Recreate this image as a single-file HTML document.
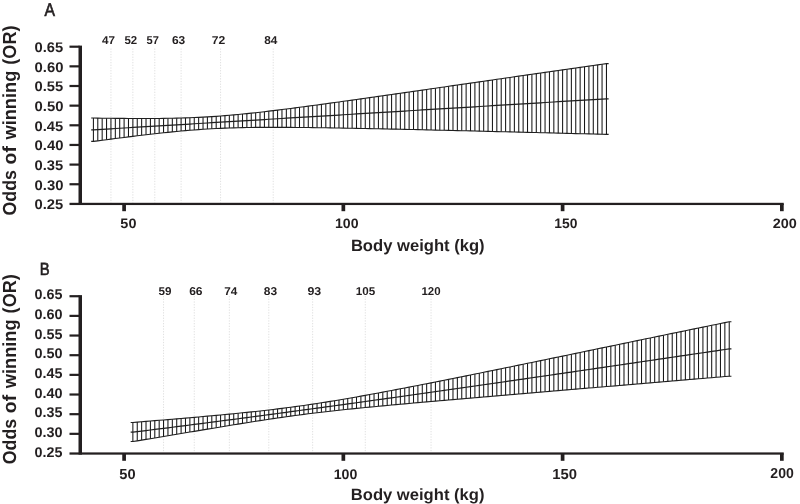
<!DOCTYPE html>
<html><head><meta charset="utf-8"><title>Odds of winning vs body weight</title>
<style>
html,body{margin:0;padding:0;background:#fff;}
svg{display:block;font-family:"Liberation Sans",sans-serif;}
text{fill:#231f20;text-rendering:geometricPrecision;}
</style></head>
<body>
<svg width="800" height="504" viewBox="0 0 800 504">
<rect width="800" height="504" fill="#fff"/>
<g>
<line x1="110.94" y1="48.5" x2="110.94" y2="202.90" stroke="#e0e0e0" stroke-width="1" stroke-dasharray="1.3 1.4"/>
<line x1="132.87" y1="48.5" x2="132.87" y2="202.90" stroke="#e0e0e0" stroke-width="1" stroke-dasharray="1.3 1.4"/>
<line x1="154.79" y1="48.5" x2="154.79" y2="202.90" stroke="#e0e0e0" stroke-width="1" stroke-dasharray="1.3 1.4"/>
<line x1="181.10" y1="48.5" x2="181.10" y2="202.90" stroke="#e0e0e0" stroke-width="1" stroke-dasharray="1.3 1.4"/>
<line x1="220.57" y1="48.5" x2="220.57" y2="202.90" stroke="#e0e0e0" stroke-width="1" stroke-dasharray="1.3 1.4"/>
<line x1="273.19" y1="48.5" x2="273.19" y2="202.90" stroke="#e0e0e0" stroke-width="1" stroke-dasharray="1.3 1.4"/>
<path d="M93.41 118.06V141.42M97.79 118.12V140.84M102.17 118.18V140.27M106.56 118.24V139.70M110.94 118.29V139.13M115.33 118.34V138.56M119.71 118.38V138.00M124.10 118.42V137.45M128.48 118.45V136.90M132.87 118.48V136.36M137.25 118.49V135.82M141.64 118.50V135.29M146.02 118.50V134.77M150.41 118.49V134.26M154.79 118.47V133.76M159.18 118.43V133.28M163.56 118.38V132.80M167.95 118.32V132.34M172.33 118.24V131.89M176.72 118.15V131.46M181.10 118.03V131.05M185.49 117.90V130.66M189.88 117.75V130.29M194.26 117.57V129.94M198.64 117.37V129.61M203.03 117.15V129.31M207.41 116.90V129.03M211.80 116.63V128.77M216.19 116.33V128.54M220.57 116.01V128.33M224.95 115.66V128.15M229.34 115.29V127.99M233.72 114.90V127.85M238.11 114.49V127.73M242.50 114.07V127.62M246.88 113.62V127.54M251.26 113.16V127.47M255.65 112.68V127.42M260.03 112.19V127.38M264.42 111.68V127.35M268.80 111.16V127.34M273.19 110.64V127.33M277.57 110.10V127.34M281.96 109.55V127.35M286.35 109.00V127.37M290.73 108.44V127.40M295.12 107.87V127.43M299.50 107.30V127.47M303.88 106.72V127.52M308.27 106.14V127.57M312.65 105.55V127.62M317.04 104.96V127.68M321.42 104.36V127.75M325.81 103.76V127.81M330.19 103.16V127.88M334.58 102.55V127.95M338.96 101.94V128.03M343.35 101.33V128.11M347.74 100.72V128.18M352.12 100.10V128.27M356.50 99.49V128.35M360.89 98.87V128.44M365.27 98.25V128.52M369.66 97.63V128.61M374.04 97.00V128.70M378.43 96.38V128.79M382.81 95.75V128.89M387.20 95.13V128.98M391.59 94.50V129.08M395.97 93.87V129.17M400.36 93.24V129.27M404.74 92.61V129.37M409.12 91.98V129.47M413.51 91.35V129.57M417.89 90.72V129.67M422.28 90.09V129.77M426.66 89.45V129.87M431.05 88.82V129.97M435.43 88.19V130.08M439.82 87.56V130.18M444.20 86.92V130.29M448.59 86.29V130.39M452.98 85.66V130.50M457.36 85.02V130.60M461.75 84.39V130.71M466.13 83.75V130.82M470.51 83.12V130.92M474.90 82.49V131.03M479.28 81.85V131.14M483.67 81.22V131.25M488.05 80.59V131.36M492.44 79.95V131.47M496.82 79.32V131.58M501.21 78.69V131.69M505.60 78.06V131.80M509.98 77.42V131.91M514.37 76.79V132.02M518.75 76.16V132.13M523.13 75.53V132.24M527.52 74.90V132.35M531.90 74.27V132.46M536.29 73.64V132.57M540.67 73.01V132.68M545.06 72.38V132.80M549.44 71.76V132.91M553.83 71.13V133.02M558.21 70.50V133.13M562.60 69.87V133.25M566.99 69.25V133.36M571.37 68.62V133.47M575.75 68.00V133.58M580.14 67.37V133.70M584.52 66.75V133.81M588.91 66.13V133.92M593.29 65.51V134.04M597.68 64.88V134.15M602.06 64.26V134.26M606.45 63.64V134.38" stroke="#171717" stroke-width="1.05" fill="none"/>
<polyline points="91.20,118.06 93.41,118.06 97.79,118.12 102.17,118.18 106.56,118.24 110.94,118.29 115.33,118.34 119.71,118.38 124.10,118.42 128.48,118.45 132.87,118.48 137.25,118.49 141.64,118.50 146.02,118.50 150.41,118.49 154.79,118.47 159.18,118.43 163.56,118.38 167.95,118.32 172.33,118.24 176.72,118.15 181.10,118.03 185.49,117.90 189.88,117.75 194.26,117.57 198.64,117.37 203.03,117.15 207.41,116.90 211.80,116.63 216.19,116.33 220.57,116.01 224.95,115.66 229.34,115.29 233.72,114.90 238.11,114.49 242.50,114.07 246.88,113.62 251.26,113.16 255.65,112.68 260.03,112.19 264.42,111.68 268.80,111.16 273.19,110.64 277.57,110.10 281.96,109.55 286.35,109.00 290.73,108.44 295.12,107.87 299.50,107.30 303.88,106.72 308.27,106.14 312.65,105.55 317.04,104.96 321.42,104.36 325.81,103.76 330.19,103.16 334.58,102.55 338.96,101.94 343.35,101.33 347.74,100.72 352.12,100.10 356.50,99.49 360.89,98.87 365.27,98.25 369.66,97.63 374.04,97.00 378.43,96.38 382.81,95.75 387.20,95.13 391.59,94.50 395.97,93.87 400.36,93.24 404.74,92.61 409.12,91.98 413.51,91.35 417.89,90.72 422.28,90.09 426.66,89.45 431.05,88.82 435.43,88.19 439.82,87.56 444.20,86.92 448.59,86.29 452.98,85.66 457.36,85.02 461.75,84.39 466.13,83.75 470.51,83.12 474.90,82.49 479.28,81.85 483.67,81.22 488.05,80.59 492.44,79.95 496.82,79.32 501.21,78.69 505.60,78.06 509.98,77.42 514.37,76.79 518.75,76.16 523.13,75.53 527.52,74.90 531.90,74.27 536.29,73.64 540.67,73.01 545.06,72.38 549.44,71.76 553.83,71.13 558.21,70.50 562.60,69.87 566.99,69.25 571.37,68.62 575.75,68.00 580.14,67.37 584.52,66.75 588.91,66.13 593.29,65.51 597.68,64.88 602.06,64.26 606.45,63.64 608.65,63.64" stroke="#1f1f1f" stroke-width="1.1" fill="none"/>
<polyline points="91.20,141.42 93.41,141.42 97.79,140.84 102.17,140.27 106.56,139.70 110.94,139.13 115.33,138.56 119.71,138.00 124.10,137.45 128.48,136.90 132.87,136.36 137.25,135.82 141.64,135.29 146.02,134.77 150.41,134.26 154.79,133.76 159.18,133.28 163.56,132.80 167.95,132.34 172.33,131.89 176.72,131.46 181.10,131.05 185.49,130.66 189.88,130.29 194.26,129.94 198.64,129.61 203.03,129.31 207.41,129.03 211.80,128.77 216.19,128.54 220.57,128.33 224.95,128.15 229.34,127.99 233.72,127.85 238.11,127.73 242.50,127.62 246.88,127.54 251.26,127.47 255.65,127.42 260.03,127.38 264.42,127.35 268.80,127.34 273.19,127.33 277.57,127.34 281.96,127.35 286.35,127.37 290.73,127.40 295.12,127.43 299.50,127.47 303.88,127.52 308.27,127.57 312.65,127.62 317.04,127.68 321.42,127.75 325.81,127.81 330.19,127.88 334.58,127.95 338.96,128.03 343.35,128.11 347.74,128.18 352.12,128.27 356.50,128.35 360.89,128.44 365.27,128.52 369.66,128.61 374.04,128.70 378.43,128.79 382.81,128.89 387.20,128.98 391.59,129.08 395.97,129.17 400.36,129.27 404.74,129.37 409.12,129.47 413.51,129.57 417.89,129.67 422.28,129.77 426.66,129.87 431.05,129.97 435.43,130.08 439.82,130.18 444.20,130.29 448.59,130.39 452.98,130.50 457.36,130.60 461.75,130.71 466.13,130.82 470.51,130.92 474.90,131.03 479.28,131.14 483.67,131.25 488.05,131.36 492.44,131.47 496.82,131.58 501.21,131.69 505.60,131.80 509.98,131.91 514.37,132.02 518.75,132.13 523.13,132.24 527.52,132.35 531.90,132.46 536.29,132.57 540.67,132.68 545.06,132.80 549.44,132.91 553.83,133.02 558.21,133.13 562.60,133.25 566.99,133.36 571.37,133.47 575.75,133.58 580.14,133.70 584.52,133.81 588.91,133.92 593.29,134.04 597.68,134.15 602.06,134.26 606.45,134.38 608.65,134.38" stroke="#1f1f1f" stroke-width="1.1" fill="none"/>
<polyline points="91.20,129.83 93.41,129.83 97.79,129.56 102.17,129.30 106.56,129.04 110.94,128.78 115.33,128.51 119.71,128.25 124.10,127.99 128.48,127.73 132.87,127.46 137.25,127.20 141.64,126.94 146.02,126.67 150.41,126.41 154.79,126.15 159.18,125.88 163.56,125.62 167.95,125.36 172.33,125.09 176.72,124.83 181.10,124.56 185.49,124.30 189.88,124.04 194.26,123.77 198.64,123.51 203.03,123.24 207.41,122.98 211.80,122.72 216.19,122.45 220.57,122.19 224.95,121.92 229.34,121.66 233.72,121.39 238.11,121.13 242.50,120.86 246.88,120.60 251.26,120.33 255.65,120.07 260.03,119.80 264.42,119.54 268.80,119.27 273.19,119.01 277.57,118.74 281.96,118.48 286.35,118.21 290.73,117.95 295.12,117.68 299.50,117.42 303.88,117.15 308.27,116.89 312.65,116.62 317.04,116.36 321.42,116.09 325.81,115.82 330.19,115.56 334.58,115.29 338.96,115.03 343.35,114.76 347.74,114.50 352.12,114.23 356.50,113.96 360.89,113.70 365.27,113.43 369.66,113.17 374.04,112.90 378.43,112.63 382.81,112.37 387.20,112.10 391.59,111.84 395.97,111.57 400.36,111.30 404.74,111.04 409.12,110.77 413.51,110.50 417.89,110.24 422.28,109.97 426.66,109.71 431.05,109.44 435.43,109.17 439.82,108.91 444.20,108.64 448.59,108.37 452.98,108.11 457.36,107.84 461.75,107.58 466.13,107.31 470.51,107.04 474.90,106.78 479.28,106.51 483.67,106.24 488.05,105.98 492.44,105.71 496.82,105.45 501.21,105.18 505.60,104.91 509.98,104.65 514.37,104.38 518.75,104.11 523.13,103.85 527.52,103.58 531.90,103.31 536.29,103.05 540.67,102.78 545.06,102.52 549.44,102.25 553.83,101.98 558.21,101.72 562.60,101.45 566.99,101.18 571.37,100.92 575.75,100.65 580.14,100.39 584.52,100.12 588.91,99.85 593.29,99.59 597.68,99.32 602.06,99.05 606.45,98.79 608.65,98.79" stroke="#1f1f1f" stroke-width="1.2" fill="none"/>
<rect x="78.5" y="45.60" width="3.5" height="159.40" fill="#231f20"/>
<rect x="69.5" y="202.80" width="714.25" height="2.25" fill="#231f20"/>
<rect x="69.5" y="183.15" width="10" height="2.2" fill="#231f20"/>
<rect x="69.5" y="163.50" width="10" height="2.2" fill="#231f20"/>
<rect x="69.5" y="143.85" width="10" height="2.2" fill="#231f20"/>
<rect x="69.5" y="124.20" width="10" height="2.2" fill="#231f20"/>
<rect x="69.5" y="104.55" width="10" height="2.2" fill="#231f20"/>
<rect x="69.5" y="84.90" width="10" height="2.2" fill="#231f20"/>
<rect x="69.5" y="65.25" width="10" height="2.2" fill="#231f20"/>
<rect x="69.5" y="45.60" width="10" height="2.2" fill="#231f20"/>
<rect x="122.25" y="203.90" width="3.7" height="7.3" fill="#231f20"/>
<rect x="341.50" y="203.90" width="3.7" height="7.3" fill="#231f20"/>
<rect x="560.75" y="203.90" width="3.7" height="7.3" fill="#231f20"/>
<rect x="780.00" y="203.90" width="3.7" height="7.3" fill="#231f20"/>
<text transform="translate(34.56,209.31) scale(1.4754,1.3993)" font-size="10" font-weight="bold">0.25</text>
<text transform="translate(34.56,189.62) scale(1.4853,1.3993)" font-size="10" font-weight="bold">0.30</text>
<text transform="translate(34.56,169.94) scale(1.4754,1.3993)" font-size="10" font-weight="bold">0.35</text>
<text transform="translate(34.56,150.25) scale(1.4853,1.3993)" font-size="10" font-weight="bold">0.40</text>
<text transform="translate(34.56,130.56) scale(1.4754,1.3993)" font-size="10" font-weight="bold">0.45</text>
<text transform="translate(34.56,110.87) scale(1.4853,1.3993)" font-size="10" font-weight="bold">0.50</text>
<text transform="translate(34.56,91.19) scale(1.4754,1.3993)" font-size="10" font-weight="bold">0.55</text>
<text transform="translate(34.56,71.50) scale(1.4853,1.3993)" font-size="10" font-weight="bold">0.60</text>
<text transform="translate(34.56,51.81) scale(1.4754,1.3993)" font-size="10" font-weight="bold">0.65</text>
<text transform="translate(120.37,227.61) scale(1.4423,1.3640)" font-size="10" font-weight="bold">50</text>
<text transform="translate(334.92,227.61) scale(1.4121,1.3640)" font-size="10" font-weight="bold">100</text>
<text transform="translate(554.33,227.61) scale(1.3866,1.3640)" font-size="10" font-weight="bold">150</text>
<text transform="translate(772.79,227.61) scale(1.4443,1.3640)" font-size="10" font-weight="bold">200</text>
<text transform="translate(102.12,43.69) scale(1.1686,1.1449)" font-size="10" font-weight="bold">47</text>
<text transform="translate(124.46,43.69) scale(1.1415,1.1449)" font-size="10" font-weight="bold">52</text>
<text transform="translate(146.47,43.69) scale(1.1084,1.1449)" font-size="10" font-weight="bold">57</text>
<text transform="translate(171.95,43.69) scale(1.1952,1.1449)" font-size="10" font-weight="bold">63</text>
<text transform="translate(211.78,43.69) scale(1.2136,1.1449)" font-size="10" font-weight="bold">72</text>
<text transform="translate(264.22,43.69) scale(1.1841,1.1449)" font-size="10" font-weight="bold">84</text>
<text stroke="#231f20" stroke-width="0.35" transform="translate(44.46,15.50) scale(1.5698,1.8473)" font-size="10" font-weight="normal">A</text>
<text transform="translate(15.91,215.51) rotate(-90) scale(1.7778,1.8940)" font-size="10" font-weight="bold">Odds</text>
<text transform="translate(15.91,164.48) rotate(-90) scale(1.9448,1.8940)" font-size="10" font-weight="bold">of</text>
<text transform="translate(15.91,139.55) rotate(-90) scale(1.8236,1.8940)" font-size="10" font-weight="bold">winning</text>
<text transform="translate(15.91,64.71) rotate(-90) scale(1.8136,1.8940)" font-size="10" font-weight="bold">(OR)</text>
<text transform="translate(350.88,250.70) scale(1.6605,1.6436)" font-size="10" font-weight="bold">Body weight (kg)</text>
</g>
<g>
<line x1="163.56" y1="296" x2="163.56" y2="452.50" stroke="#e0e0e0" stroke-width="1" stroke-dasharray="1.3 1.4"/>
<line x1="194.26" y1="296" x2="194.26" y2="452.50" stroke="#e0e0e0" stroke-width="1" stroke-dasharray="1.3 1.4"/>
<line x1="229.34" y1="296" x2="229.34" y2="452.50" stroke="#e0e0e0" stroke-width="1" stroke-dasharray="1.3 1.4"/>
<line x1="268.80" y1="296" x2="268.80" y2="452.50" stroke="#e0e0e0" stroke-width="1" stroke-dasharray="1.3 1.4"/>
<line x1="312.65" y1="296" x2="312.65" y2="452.50" stroke="#e0e0e0" stroke-width="1" stroke-dasharray="1.3 1.4"/>
<line x1="365.27" y1="296" x2="365.27" y2="452.50" stroke="#e0e0e0" stroke-width="1" stroke-dasharray="1.3 1.4"/>
<line x1="431.05" y1="296" x2="431.05" y2="452.50" stroke="#e0e0e0" stroke-width="1" stroke-dasharray="1.3 1.4"/>
<path d="M132.87 422.45V441.56M137.25 422.09V440.84M141.64 421.74V440.12M146.02 421.39V439.39M150.41 421.03V438.67M154.79 420.67V437.94M159.18 420.31V437.21M163.56 419.95V436.48M167.95 419.58V435.75M172.33 419.21V435.02M176.72 418.84V434.28M181.10 418.47V433.55M185.49 418.09V432.82M189.88 417.72V432.08M194.26 417.33V431.35M198.64 416.95V430.61M203.03 416.56V429.88M207.41 416.16V429.15M211.80 415.77V428.42M216.19 415.36V427.69M220.57 414.95V426.96M224.95 414.54V426.24M229.34 414.12V425.52M233.72 413.69V424.80M238.11 413.26V424.09M242.50 412.82V423.38M246.88 412.37V422.68M251.26 411.91V421.98M255.65 411.44V421.29M260.03 410.96V420.61M264.42 410.47V419.94M268.80 409.96V419.28M273.19 409.45V418.62M277.57 408.92V417.98M281.96 408.37V417.35M286.35 407.82V416.73M290.73 407.24V416.12M295.12 406.66V415.52M299.50 406.05V414.94M303.88 405.43V414.37M308.27 404.80V413.81M312.65 404.15V413.27M317.04 403.48V412.74M321.42 402.81V412.22M325.81 402.11V411.71M330.19 401.41V411.21M334.58 400.69V410.72M338.96 399.96V410.25M343.35 399.22V409.78M347.74 398.46V409.32M352.12 397.70V408.86M356.50 396.93V408.42M360.89 396.15V407.98M365.27 395.36V407.55M369.66 394.57V407.12M374.04 393.76V406.70M378.43 392.95V406.28M382.81 392.14V405.86M387.20 391.32V405.45M391.59 390.49V405.05M395.97 389.66V404.64M400.36 388.82V404.24M404.74 387.98V403.85M409.12 387.14V403.45M413.51 386.29V403.06M417.89 385.43V402.67M422.28 384.58V402.28M426.66 383.72V401.89M431.05 382.85V401.50M435.43 381.99V401.12M439.82 381.12V400.74M444.20 380.25V400.35M448.59 379.37V399.97M452.98 378.50V399.59M457.36 377.62V399.22M461.75 376.74V398.84M466.13 375.85V398.46M470.51 374.97V398.08M474.90 374.08V397.71M479.28 373.19V397.33M483.67 372.30V396.96M488.05 371.41V396.58M492.44 370.52V396.21M496.82 369.62V395.84M501.21 368.73V395.46M505.60 367.83V395.09M509.98 366.93V394.72M514.37 366.03V394.35M518.75 365.13V393.98M523.13 364.23V393.61M527.52 363.33V393.23M531.90 362.43V392.86M536.29 361.52V392.49M540.67 360.62V392.12M545.06 359.71V391.75M549.44 358.81V391.38M553.83 357.90V391.01M558.21 356.99V390.64M562.60 356.09V390.27M566.99 355.18V389.90M571.37 354.27V389.53M575.75 353.36V389.16M580.14 352.45V388.79M584.52 351.54V388.42M588.91 350.64V388.05M593.29 349.73V387.68M597.68 348.82V387.31M602.06 347.91V386.94M606.45 347.00V386.57M610.83 346.09V386.20M615.22 345.18V385.83M619.61 344.27V385.46M623.99 343.37V385.09M628.38 342.46V384.72M632.76 341.55V384.35M637.14 340.65V383.98M641.53 339.74V383.61M645.91 338.83V383.24M650.30 337.93V382.87M654.68 337.02V382.50M659.07 336.12V382.13M663.46 335.22V381.76M667.84 334.31V381.39M672.23 333.41V381.02M676.61 332.51V380.65M681.00 331.61V380.28M685.38 330.71V379.91M689.76 329.81V379.54M694.15 328.91V379.17M698.53 328.02V378.80M702.92 327.12V378.43M707.30 326.23V378.06M711.69 325.33V377.69M716.08 324.44V377.31M720.46 323.55V376.94M724.85 322.66V376.57M729.23 321.77V376.20" stroke="#171717" stroke-width="1.05" fill="none"/>
<polyline points="130.67,422.45 132.87,422.45 137.25,422.09 141.64,421.74 146.02,421.39 150.41,421.03 154.79,420.67 159.18,420.31 163.56,419.95 167.95,419.58 172.33,419.21 176.72,418.84 181.10,418.47 185.49,418.09 189.88,417.72 194.26,417.33 198.64,416.95 203.03,416.56 207.41,416.16 211.80,415.77 216.19,415.36 220.57,414.95 224.95,414.54 229.34,414.12 233.72,413.69 238.11,413.26 242.50,412.82 246.88,412.37 251.26,411.91 255.65,411.44 260.03,410.96 264.42,410.47 268.80,409.96 273.19,409.45 277.57,408.92 281.96,408.37 286.35,407.82 290.73,407.24 295.12,406.66 299.50,406.05 303.88,405.43 308.27,404.80 312.65,404.15 317.04,403.48 321.42,402.81 325.81,402.11 330.19,401.41 334.58,400.69 338.96,399.96 343.35,399.22 347.74,398.46 352.12,397.70 356.50,396.93 360.89,396.15 365.27,395.36 369.66,394.57 374.04,393.76 378.43,392.95 382.81,392.14 387.20,391.32 391.59,390.49 395.97,389.66 400.36,388.82 404.74,387.98 409.12,387.14 413.51,386.29 417.89,385.43 422.28,384.58 426.66,383.72 431.05,382.85 435.43,381.99 439.82,381.12 444.20,380.25 448.59,379.37 452.98,378.50 457.36,377.62 461.75,376.74 466.13,375.85 470.51,374.97 474.90,374.08 479.28,373.19 483.67,372.30 488.05,371.41 492.44,370.52 496.82,369.62 501.21,368.73 505.60,367.83 509.98,366.93 514.37,366.03 518.75,365.13 523.13,364.23 527.52,363.33 531.90,362.43 536.29,361.52 540.67,360.62 545.06,359.71 549.44,358.81 553.83,357.90 558.21,356.99 562.60,356.09 566.99,355.18 571.37,354.27 575.75,353.36 580.14,352.45 584.52,351.54 588.91,350.64 593.29,349.73 597.68,348.82 602.06,347.91 606.45,347.00 610.83,346.09 615.22,345.18 619.61,344.27 623.99,343.37 628.38,342.46 632.76,341.55 637.14,340.65 641.53,339.74 645.91,338.83 650.30,337.93 654.68,337.02 659.07,336.12 663.46,335.22 667.84,334.31 672.23,333.41 676.61,332.51 681.00,331.61 685.38,330.71 689.76,329.81 694.15,328.91 698.53,328.02 702.92,327.12 707.30,326.23 711.69,325.33 716.08,324.44 720.46,323.55 724.85,322.66 729.23,321.77 731.43,321.77" stroke="#1f1f1f" stroke-width="1.1" fill="none"/>
<polyline points="130.67,441.56 132.87,441.56 137.25,440.84 141.64,440.12 146.02,439.39 150.41,438.67 154.79,437.94 159.18,437.21 163.56,436.48 167.95,435.75 172.33,435.02 176.72,434.28 181.10,433.55 185.49,432.82 189.88,432.08 194.26,431.35 198.64,430.61 203.03,429.88 207.41,429.15 211.80,428.42 216.19,427.69 220.57,426.96 224.95,426.24 229.34,425.52 233.72,424.80 238.11,424.09 242.50,423.38 246.88,422.68 251.26,421.98 255.65,421.29 260.03,420.61 264.42,419.94 268.80,419.28 273.19,418.62 277.57,417.98 281.96,417.35 286.35,416.73 290.73,416.12 295.12,415.52 299.50,414.94 303.88,414.37 308.27,413.81 312.65,413.27 317.04,412.74 321.42,412.22 325.81,411.71 330.19,411.21 334.58,410.72 338.96,410.25 343.35,409.78 347.74,409.32 352.12,408.86 356.50,408.42 360.89,407.98 365.27,407.55 369.66,407.12 374.04,406.70 378.43,406.28 382.81,405.86 387.20,405.45 391.59,405.05 395.97,404.64 400.36,404.24 404.74,403.85 409.12,403.45 413.51,403.06 417.89,402.67 422.28,402.28 426.66,401.89 431.05,401.50 435.43,401.12 439.82,400.74 444.20,400.35 448.59,399.97 452.98,399.59 457.36,399.22 461.75,398.84 466.13,398.46 470.51,398.08 474.90,397.71 479.28,397.33 483.67,396.96 488.05,396.58 492.44,396.21 496.82,395.84 501.21,395.46 505.60,395.09 509.98,394.72 514.37,394.35 518.75,393.98 523.13,393.61 527.52,393.23 531.90,392.86 536.29,392.49 540.67,392.12 545.06,391.75 549.44,391.38 553.83,391.01 558.21,390.64 562.60,390.27 566.99,389.90 571.37,389.53 575.75,389.16 580.14,388.79 584.52,388.42 588.91,388.05 593.29,387.68 597.68,387.31 602.06,386.94 606.45,386.57 610.83,386.20 615.22,385.83 619.61,385.46 623.99,385.09 628.38,384.72 632.76,384.35 637.14,383.98 641.53,383.61 645.91,383.24 650.30,382.87 654.68,382.50 659.07,382.13 663.46,381.76 667.84,381.39 672.23,381.02 676.61,380.65 681.00,380.28 685.38,379.91 689.76,379.54 694.15,379.17 698.53,378.80 702.92,378.43 707.30,378.06 711.69,377.69 716.08,377.31 720.46,376.94 724.85,376.57 729.23,376.20 731.43,376.20" stroke="#1f1f1f" stroke-width="1.1" fill="none"/>
<polyline points="130.67,432.22 132.87,432.22 137.25,431.67 141.64,431.12 146.02,430.57 150.41,430.02 154.79,429.47 159.18,428.92 163.56,428.36 167.95,427.81 172.33,427.25 176.72,426.69 181.10,426.13 185.49,425.57 189.88,425.01 194.26,424.44 198.64,423.88 203.03,423.31 207.41,422.74 211.80,422.17 216.19,421.60 220.57,421.03 224.95,420.46 229.34,419.88 233.72,419.31 238.11,418.73 242.50,418.15 246.88,417.57 251.26,416.99 255.65,416.41 260.03,415.83 264.42,415.24 268.80,414.66 273.19,414.07 277.57,413.48 281.96,412.89 286.35,412.30 290.73,411.71 295.12,411.12 299.50,410.53 303.88,409.93 308.27,409.34 312.65,408.74 317.04,408.14 321.42,407.54 325.81,406.94 330.19,406.34 334.58,405.74 338.96,405.14 343.35,404.54 347.74,403.93 352.12,403.32 356.50,402.72 360.89,402.11 365.27,401.50 369.66,400.89 374.04,400.28 378.43,399.67 382.81,399.06 387.20,398.44 391.59,397.83 395.97,397.22 400.36,396.60 404.74,395.98 409.12,395.37 413.51,394.75 417.89,394.13 422.28,393.51 426.66,392.89 431.05,392.27 435.43,391.64 439.82,391.02 444.20,390.40 448.59,389.77 452.98,389.15 457.36,388.52 461.75,387.89 466.13,387.27 470.51,386.64 474.90,386.01 479.28,385.38 483.67,384.75 488.05,384.12 492.44,383.49 496.82,382.86 501.21,382.22 505.60,381.59 509.98,380.96 514.37,380.32 518.75,379.69 523.13,379.05 527.52,378.42 531.90,377.78 536.29,377.14 540.67,376.51 545.06,375.87 549.44,375.23 553.83,374.59 558.21,373.96 562.60,373.32 566.99,372.68 571.37,372.04 575.75,371.40 580.14,370.76 584.52,370.11 588.91,369.47 593.29,368.83 597.68,368.19 602.06,367.55 606.45,366.90 610.83,366.26 615.22,365.62 619.61,364.98 623.99,364.33 628.38,363.69 632.76,363.05 637.14,362.40 641.53,361.76 645.91,361.11 650.30,360.47 654.68,359.82 659.07,359.18 663.46,358.54 667.84,357.89 672.23,357.25 676.61,356.60 681.00,355.96 685.38,355.31 689.76,354.67 694.15,354.02 698.53,353.38 702.92,352.73 707.30,352.09 711.69,351.44 716.08,350.80 720.46,350.15 724.85,349.51 729.23,348.86 731.43,348.86" stroke="#1f1f1f" stroke-width="1.2" fill="none"/>
<rect x="78.5" y="295.12" width="3.5" height="159.48" fill="#231f20"/>
<rect x="69.5" y="452.40" width="714.25" height="2.25" fill="#231f20"/>
<rect x="69.5" y="432.74" width="10" height="2.2" fill="#231f20"/>
<rect x="69.5" y="413.08" width="10" height="2.2" fill="#231f20"/>
<rect x="69.5" y="393.42" width="10" height="2.2" fill="#231f20"/>
<rect x="69.5" y="373.76" width="10" height="2.2" fill="#231f20"/>
<rect x="69.5" y="354.10" width="10" height="2.2" fill="#231f20"/>
<rect x="69.5" y="334.44" width="10" height="2.2" fill="#231f20"/>
<rect x="69.5" y="314.78" width="10" height="2.2" fill="#231f20"/>
<rect x="69.5" y="295.12" width="10" height="2.2" fill="#231f20"/>
<rect x="122.25" y="453.50" width="3.7" height="7.3" fill="#231f20"/>
<rect x="341.50" y="453.50" width="3.7" height="7.3" fill="#231f20"/>
<rect x="560.75" y="453.50" width="3.7" height="7.3" fill="#231f20"/>
<rect x="780.00" y="453.50" width="3.7" height="7.3" fill="#231f20"/>
<text transform="translate(34.48,456.61) scale(1.4328,1.4134)" font-size="10" font-weight="bold">0.25</text>
<text transform="translate(34.47,436.94) scale(1.4424,1.4134)" font-size="10" font-weight="bold">0.30</text>
<text transform="translate(34.48,417.26) scale(1.4328,1.4134)" font-size="10" font-weight="bold">0.35</text>
<text transform="translate(34.47,397.59) scale(1.4424,1.4134)" font-size="10" font-weight="bold">0.40</text>
<text transform="translate(34.48,377.92) scale(1.4328,1.4134)" font-size="10" font-weight="bold">0.45</text>
<text transform="translate(34.47,358.25) scale(1.4424,1.4134)" font-size="10" font-weight="bold">0.50</text>
<text transform="translate(34.48,338.57) scale(1.4328,1.4134)" font-size="10" font-weight="bold">0.55</text>
<text transform="translate(34.47,318.90) scale(1.4424,1.4134)" font-size="10" font-weight="bold">0.60</text>
<text transform="translate(34.48,299.23) scale(1.4328,1.4134)" font-size="10" font-weight="bold">0.65</text>
<text transform="translate(119.36,478.86) scale(1.4615,1.4417)" font-size="10" font-weight="bold">50</text>
<text transform="translate(333.71,478.66) scale(1.4185,1.3993)" font-size="10" font-weight="bold">100</text>
<text transform="translate(552.37,478.86) scale(1.4824,1.4417)" font-size="10" font-weight="bold">150</text>
<text transform="translate(770.31,477.86) scale(1.4066,1.4417)" font-size="10" font-weight="bold">200</text>
<text transform="translate(158.55,294.69) scale(1.1675,1.1307)" font-size="10" font-weight="bold">59</text>
<text transform="translate(189.15,294.69) scale(1.2048,1.1307)" font-size="10" font-weight="bold">66</text>
<text transform="translate(224.30,294.69) scale(1.1765,1.1307)" font-size="10" font-weight="bold">74</text>
<text transform="translate(263.81,294.69) scale(1.1990,1.1307)" font-size="10" font-weight="bold">83</text>
<text transform="translate(307.47,294.69) scale(1.2404,1.1307)" font-size="10" font-weight="bold">93</text>
<text transform="translate(355.67,294.69) scale(1.1664,1.1307)" font-size="10" font-weight="bold">105</text>
<text transform="translate(421.38,294.69) scale(1.1502,1.1307)" font-size="10" font-weight="bold">120</text>
<text stroke="#231f20" stroke-width="0.35" transform="translate(39.68,274.60) scale(1.4836,1.7600)" font-size="10" font-weight="normal">B</text>
<text transform="translate(15.91,464.21) rotate(-90) scale(1.7778,1.8940)" font-size="10" font-weight="bold">Odds</text>
<text transform="translate(15.91,413.18) rotate(-90) scale(1.9448,1.8940)" font-size="10" font-weight="bold">of</text>
<text transform="translate(15.91,388.25) rotate(-90) scale(1.8236,1.8940)" font-size="10" font-weight="bold">winning</text>
<text transform="translate(15.91,313.41) rotate(-90) scale(1.8136,1.8940)" font-size="10" font-weight="bold">(OR)</text>
<text transform="translate(350.78,500.30) scale(1.6592,1.6291)" font-size="10" font-weight="bold">Body weight (kg)</text>
</g>
</svg>
</body></html>
